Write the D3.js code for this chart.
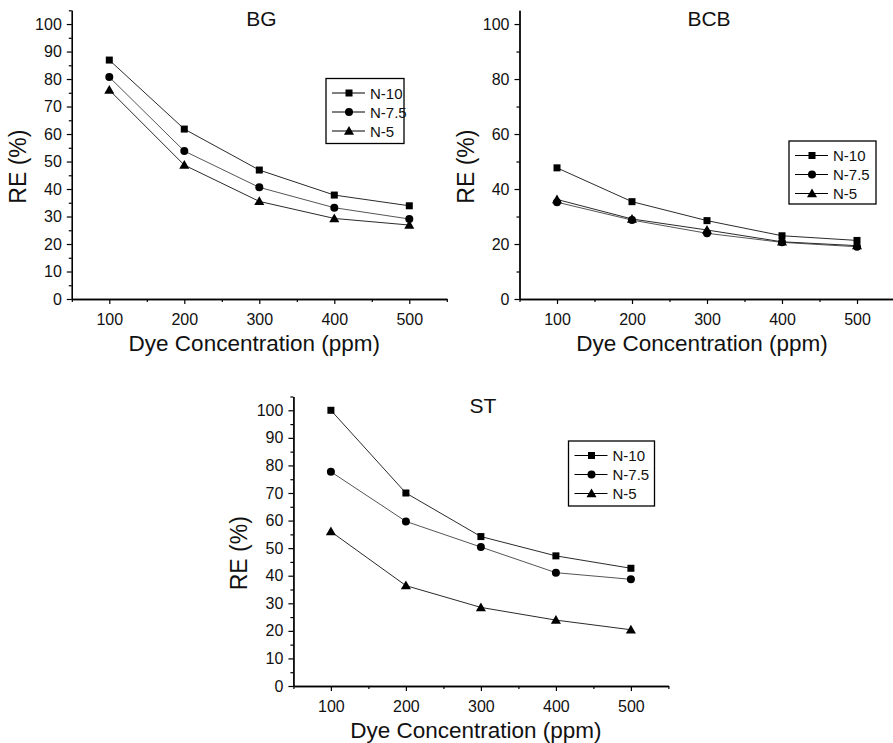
<!DOCTYPE html>
<html>
<head>
<meta charset="utf-8">
<script src="https://cdn.jsdelivr.net/npm/d3@7"></script>
<style>
  html, body { margin: 0; padding: 0; background: #fff; }
  svg { display: block; font-family: "Liberation Sans", Arial, Helvetica, sans-serif; }
</style>
</head>
<body>
<svg id="chart" width="893" height="743"></svg>
<script>
// Dye concentrations (ppm) on the x axis
const concentrations = [100, 200, 300, 400, 500];
const seriesNames = ["N-10", "N-7.5", "N-5"];
const markerShapes = ["square", "circle", "triangle"];

// Removal efficiency RE (%) for each dye and adsorbent
const bgN10 = [86.9, 61.8, 46.9, 37.8, 33.9];
const bgN75 = [80.7, 53.8, 40.6, 33.2, 29.1];
const bgN5 = [76.0, 48.7, 35.5, 29.3, 26.9];

const bcbN10 = [47.7, 35.4, 28.5, 23.0, 21.3];
const bcbN75 = [35.2, 28.7, 23.9, 20.6, 19.0];
const bcbN5 = [36.2, 29.1, 25.1, 20.8, 19.4];

const stN10 = [100.0, 70.0, 54.2, 47.2, 42.7];
const stN75 = [77.7, 59.7, 50.4, 41.1, 38.7];
const stN5 = [56.0, 36.4, 28.5, 23.9, 20.4];

// Tick labels
const xTicks = [100, 200, 300, 400, 500];
const xMinorTicks = [50, 150, 250, 350, 450, 550];
const yTicksFine = [0, 10, 20, 30, 40, 50, 60, 70, 80, 90, 100];
const yMinorFine = [5, 15, 25, 35, 45, 55, 65, 75, 85, 95, 105];
const yTicksCoarse = [0, 20, 40, 60, 80, 100];
const yMinorCoarse = [10, 30, 50, 70, 90];

const xTitle = "Dye Concentration (ppm)";
const yTitle = "RE (%)";

const panels = [
  { title: "BG", series: [bgN10, bgN75, bgN5], yTicks: yTicksFine, yMinor: yMinorFine,
    left: 71.8, right: 446.8, top: 10.3, bottom: 299,
    legend: { x: 326, y: 78.5, w: 78, h: 65 } },
  { title: "BCB", series: [bcbN10, bcbN75, bcbN5], yTicks: yTicksCoarse, yMinor: yMinorCoarse,
    left: 519.5, right: 894.5, top: 10.3, bottom: 299,
    legend: { x: 789, y: 141, w: 87, h: 63 } },
  { title: "ST", series: [stN10, stN75, stN5], yTicks: yTicksFine, yMinor: yMinorFine,
    left: 293.4, right: 668.4, top: 396.5, bottom: 686,
    legend: { x: 568.5, y: 441, w: 86, h: 65 } }
];

const svg = d3.select("#chart");
const lineColor = "#2a2a2a";

function drawMarker(g, shape, cx, cy) {
  if (shape === "square") {
    g.append("rect").attr("x", cx - 3.5).attr("y", cy - 3.5)
      .attr("width", 7).attr("height", 7).attr("fill", "#000");
  } else if (shape === "circle") {
    g.append("circle").attr("cx", cx).attr("cy", cy).attr("r", 4).attr("fill", "#000");
  } else {
    const sym = d3.symbol().type(d3.symbolTriangle).size(44);
    g.append("path").attr("d", sym()).attr("transform", `translate(${cx},${cy + 0.8})`)
      .attr("fill", "#000");
  }
}

panels.forEach(p => {
  const x = d3.scaleLinear().domain([50, 550]).range([p.left, p.right]);
  const y = d3.scaleLinear().domain([0, 105]).range([p.bottom, p.top]);
  const g = svg.append("g");

  // Axes: major ticks with labels, minor ticks without
  g.append("g").attr("transform", `translate(0,${p.bottom})`)
    .call(d3.axisBottom(x).tickValues(xTicks).tickSize(5).tickPadding(10).tickSizeOuter(0));
  g.append("g").attr("transform", `translate(0,${p.bottom})`)
    .call(d3.axisBottom(x).tickValues(xMinorTicks).tickSize(3).tickFormat("").tickSizeOuter(0));
  g.append("g").attr("transform", `translate(${p.left},0)`)
    .call(d3.axisLeft(y).tickValues(p.yTicks).tickSize(5).tickPadding(5).tickSizeOuter(0));
  g.append("g").attr("transform", `translate(${p.left},0)`)
    .call(d3.axisLeft(y).tickValues(p.yMinor).tickSize(3).tickFormat("").tickSizeOuter(0));

  g.selectAll(".domain").attr("stroke", "#000").attr("stroke-width", 1.3);
  g.selectAll(".tick line").attr("stroke", "#000").attr("stroke-width", 1.2);
  g.selectAll(".tick text").attr("font-size", 16).attr("fill", "#111")
    .attr("font-family", "'Liberation Sans', Arial, sans-serif");

  // Title
  g.append("text").attr("x", (p.left + p.right) / 2 + 2).attr("y", p.top + 16)
    .attr("text-anchor", "middle").attr("font-size", 21).attr("fill", "#111").text(p.title);

  // Axis titles
  g.append("text").attr("x", (p.left + p.right) / 2 - 5).attr("y", p.bottom + 52)
    .attr("text-anchor", "middle").attr("font-size", 22.5).attr("fill", "#111").text(xTitle);
  g.append("text")
    .attr("transform", `translate(${p.left - 46},${(p.top + p.bottom) / 2 + 12}) rotate(-90)`)
    .attr("text-anchor", "middle").attr("font-size", 23).attr("fill", "#111").text(yTitle);

  // Series lines and markers
  const line = d3.line().x((d, i) => x(concentrations[i])).y(d => y(d));
  p.series.forEach((vals, si) => {
    g.append("path").datum(vals).attr("d", line)
      .attr("fill", "none").attr("stroke", si === 1 ? "#555" : lineColor).attr("stroke-width", 1);
  });
  p.series.forEach((vals, si) => {
    vals.forEach((v, i) => drawMarker(g, markerShapes[si], x(concentrations[i]), y(v)));
  });

  // Legend
  const L = p.legend;
  const lg = g.append("g").attr("transform", `translate(${L.x},${L.y})`);
  lg.append("rect").attr("width", L.w).attr("height", L.h)
    .attr("fill", "#fff").attr("stroke", "#000").attr("stroke-width", 1.3);
  seriesNames.forEach((name, si) => {
    const ry = 14.5 + si * 19;
    lg.append("line").attr("x1", 6).attr("x2", 39).attr("y1", ry).attr("y2", ry)
      .attr("stroke", "#000").attr("stroke-width", 1);
    drawMarker(lg, markerShapes[si], 23, ry);
    lg.append("text").attr("x", 44).attr("y", ry + 5.5).attr("font-size", 15)
      .attr("fill", "#111").text(name);
  });
});
</script>
</body>
</html>
